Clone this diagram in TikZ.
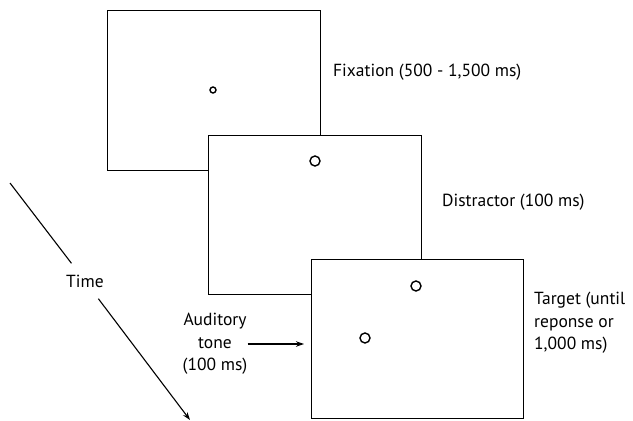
\documentclass[tikz,border=0pt]{standalone}
\usepackage{fontspec}
\setmainfont{PT Sans}
\usetikzlibrary{arrows.meta}
\begin{document}
\begin{tikzpicture}[x=1pt,y=-1pt,
  screen/.style={draw, line width=1.2pt, fill=white},
  lbl/.style={font=\fontsize{17.5}{22.5}\selectfont, inner sep=0pt, anchor=west, align=left},
  stim/.style={draw, line width=1.4pt, circle, inner sep=0pt},
  conn/.style={line width=1.1pt, -{Stealth[length=8pt,width=5.5pt]}}]
\useasboundingbox (0,0) rectangle (633,421);
\node[screen, minimum width=213pt, minimum height=160pt, anchor=north west] (b1) at (107,10) {};
\node[screen, minimum width=213pt, minimum height=159pt, anchor=north west] (b2) at (208,135) {};
\node[screen, minimum width=212pt, minimum height=159pt, anchor=north west] (b3) at (311,259) {};
\node[stim, minimum size=6pt] (fix) at (213,90) {};
\node[stim, minimum size=10pt] (dis) at (315,161) {};
\node[stim, minimum size=10pt] (t1) at (416,286) {};
\node[stim, minimum size=10pt] (t2) at (365,338) {};
\node[lbl] (lfix) at (333,72) {Fixation (500 - 1,500 ms)};
\node[lbl] (ldis) at (442,202) {Distractor (100 ms)};
\node[lbl] (ltar) at (534,323) {Target (until\\reponse or\\1,000 ms)};
\node[lbl, anchor=center, align=center] (aud) at (215,344) {Auditory\\tone\\(100 ms)};
\node[font=\fontsize{17.5}{20}\selectfont, inner xsep=0pt, minimum height=35pt] (time) at (85,281) {Time};
\coordinate (ts) at (10,183);
\coordinate (te) at (190,420);
\draw[line width=1.1pt] (ts) -- (time);
\draw[conn] (time) -- (te);
\draw[conn, shorten >=7pt] (aud.east) -- (aud.east -| b3.west);
\end{tikzpicture}
\end{document}
